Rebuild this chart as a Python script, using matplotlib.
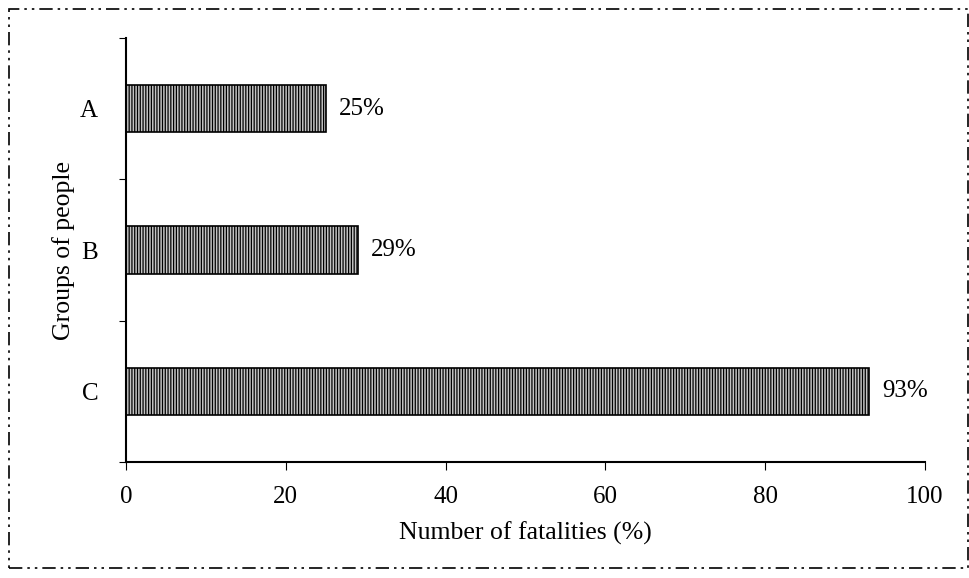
import matplotlib
matplotlib.use('Agg')
import matplotlib.pyplot as plt
from matplotlib.patches import Rectangle

# Data
groups = ['A', 'B', 'C']
fatalities = [25, 29, 93]
xticks = [0, 20, 40, 60, 80, 100]

plt.rcParams['font.family'] = 'Liberation Serif'
plt.rcParams['hatch.linewidth'] = 0.9

fig = plt.figure(figsize=(9.69, 5.78), dpi=100)
ax = fig.add_axes([0.130, 0.2007, 0.8246, 0.7333])

pos = list(range(len(groups)))
ax.barh(pos, fatalities, height=0.335, color='#c4c4c4', edgecolor='black',
        hatch='||||||', linewidth=1.2)

for p, v in zip(pos, fatalities):
    ax.text(v + 1.6, p, f'{v}%', va='center', ha='left', fontsize=18)

ax.set_ylim(2.5, -0.5)
ax.set_xlim(0, 100)
ax.set_yticks([-0.5, 0.5, 1.5, 2.5])
ax.set_yticklabels([])
ax.set_yticks(pos, minor=True)
ax.set_yticklabels(groups, minor=True, fontsize=18)
ax.tick_params(axis='y', which='minor', length=0, pad=20)
ax.tick_params(axis='y', which='major', length=5, direction='out')
ax.set_xticks(xticks)
ax.tick_params(axis='x', labelsize=18, length=6, direction='out', pad=11)

ax.spines['top'].set_visible(False)
ax.spines['right'].set_visible(False)
ax.spines['left'].set_linewidth(1.5)
ax.spines['bottom'].set_linewidth(1.5)

ax.set_xlabel('Number of fatalities (%)', fontsize=18.5, labelpad=10)
ax.set_ylabel('Groups of people', fontsize=18.5)
ax.yaxis.set_label_coords(-0.064, 0.5)

# dash-dot-dot border around the figure
border = Rectangle((0.009, 0.017), 0.99, 0.968, transform=fig.transFigure,
                   fill=False, edgecolor='black', linewidth=1.2,
                   linestyle=(0, (8, 3, 1.5, 3, 1.5, 3)))
fig.patches.append(border)

fig.savefig('out.png', dpi=100)
